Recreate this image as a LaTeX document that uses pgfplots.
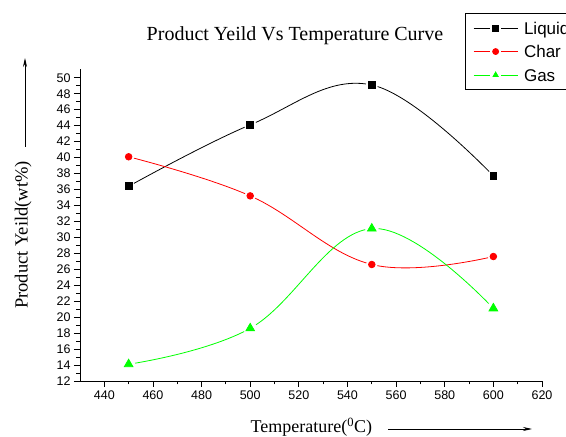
\documentclass[border=0pt]{standalone}
\usepackage{pgfplots}
\pgfplotsset{compat=1.18}
\usepackage{fontspec}
\setmainfont{Liberation Serif}
\newfontfamily\arial{Liberation Sans}
\usetikzlibrary{arrows.meta}
\definecolor{mygreen}{RGB}{0,255,0}

\pgfplotstableread{
x y
450 36.4
500 44.1
550 49.1
600 37.7
}\liquid
\pgfplotstableread{
x y
450 40.1
500 35.2
550 26.6
600 27.6
}\char
\pgfplotstableread{
x y
450 14.1
500 18.6
550 31.1
600 21.1
}\gas

\begin{document}
\begin{tikzpicture}
\useasboundingbox (0pt,0pt) rectangle (566pt,437pt);
\begin{axis}[
  at={(80pt,56pt)}, anchor=south west, scale only axis,
  width=462pt, height=312pt,
  clip=false,
  xmin=430, xmax=620, ymin=12, ymax=51.1,
  axis x line*=bottom, axis y line*=left,
  axis line style={-, line width=0.8pt},
  xtick={440,460,...,620}, ytick={12,14,...,50},
  minor x tick num=1, minor y tick num=1,
  tick align=outside, major tick length=6pt, minor tick length=3.5pt,
  every tick/.style={black, line width=0.8pt},
  ticklabel style={font=\arial\fontsize{12.5}{14}\selectfont},
  /pgf/number format/assume math mode=true,
  /pgf/number format/set thousands separator={},
  xlabel={Temperature(\textsuperscript{0}C)},
  ylabel={Product Yeild(wt\%)},
  xlabel style={font=\fontsize{18}{20}\selectfont, at={(axis description cs:0.501,-0.147)}, anchor=center},
  ylabel style={font=\fontsize{18.5}{20}\selectfont, at={(axis description cs:-0.123,0.468)}, anchor=center},
  legend style={at={(0.833,1.179)}, anchor=north west, draw=black, line width=0.8pt,
    font=\arial\fontsize{17}{20}\selectfont, row sep=0pt, inner xsep=8pt, inner ysep=2.75pt,
    nodes={text height=14.5pt, text depth=2pt, inner ysep=3.5pt, inner xsep=6pt}},
  legend cell align=left,
  legend image code/.code={
    \draw[line width=0.8pt] (0pt,0pt)--(16.5pt,0pt) (27.5pt,0pt)--(44pt,0pt);
    \draw[only marks, mark size=3pt] plot coordinates {(22pt,0pt)};
  },
]
% curves
\addplot[black, line width=0.8pt, smooth, tension=0.65, forget plot] table {\liquid};
\addplot[red, line width=0.8pt, smooth, tension=0.65, forget plot] table {\char};
\addplot[mygreen, line width=0.8pt, smooth, tension=0.65, forget plot] table {\gas};
% white gaps around markers
\addplot[white, only marks, mark=*, mark size=5.8pt, forget plot] table {\liquid};
\addplot[white, only marks, mark=*, mark size=5.6pt, forget plot] table {\char};
\addplot[white, only marks, mark=*, mark size=6.5pt, forget plot] table {\gas};
% markers
\addplot[black, only marks, mark=square*, mark size=3.4pt, line width=0.8pt] table {\liquid};
\addlegendentry{Liquid}
\addplot[red, only marks, mark=*, mark size=3.3pt, line width=0.8pt] table {\char};
\addlegendentry{Char}
\addplot[mygreen, only marks, mark=triangle*, mark size=5pt, line width=0.8pt] table {\gas};
\addlegendentry{Gas}
\end{axis}
\node[font=\fontsize{20}{23}\selectfont] at (295pt,401pt) {Product Yeild Vs Temperature Curve};
\draw[-{Stealth[length=9pt,width=4pt]}, line width=0.8pt] (388pt,8pt)--(532pt,8pt);
\draw[-{Stealth[length=9pt,width=4pt]}, line width=0.8pt] (25pt,290pt)--(25pt,379pt);
\end{tikzpicture}
\end{document}
